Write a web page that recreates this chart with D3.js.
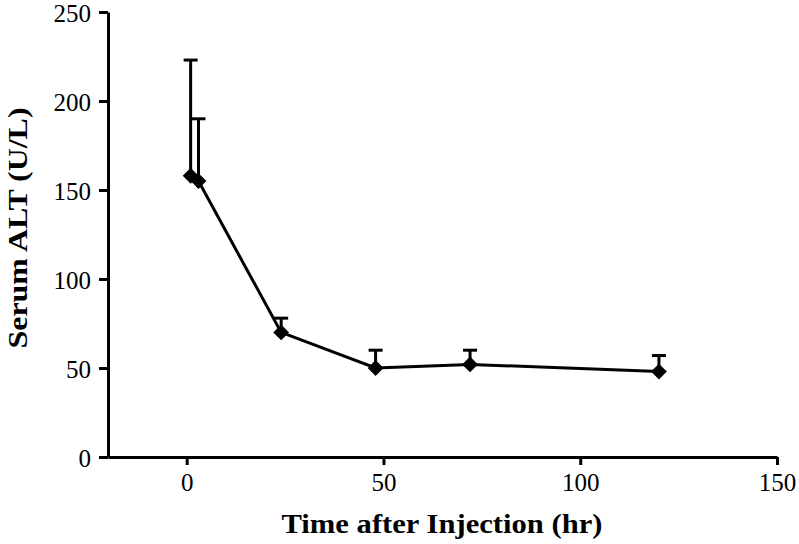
<!DOCTYPE html>
<html>
<head>
<meta charset="utf-8">
<script src="https://cdn.jsdelivr.net/npm/d3@7"></script>
<style>
  html, body { margin: 0; padding: 0; background: #fff; }
  svg { display: block; }
</style>
</head>
<body>
<svg id="chart" width="799" height="544"></svg>
<script>
// Data
const timesHr = [1, 3, 24, 48, 72, 120];
const altMean = [158, 155, 70, 50, 52, 48];
const altUpper = [223, 190, 78, 60, 60, 57];
const xTicks = [0, 50, 100, 150];
const yTicks = [0, 50, 100, 150, 200, 250];
const xTitle = "Time after Injection (hr)";
const yTitle = "Serum ALT (U/L)";

const svg = d3.select("#chart");
const font = "'Liberation Serif', 'Times New Roman', serif";

const x = d3.scaleLinear().domain([-20, 150]).range([108, 777]);
const y = d3.scaleLinear().domain([0, 250]).range([457, 12]);

// Axes
const xAxis = svg.append("g").attr("transform", `translate(0,${y(0)})`)
  .call(d3.axisBottom(x).tickValues(xTicks).tickSize(8).tickPadding(8).tickSizeOuter(0));
const yAxis = svg.append("g").attr("transform", `translate(${x(-20)},0)`)
  .call(d3.axisLeft(y).tickValues(yTicks).tickSize(9).tickPadding(8).tickSizeOuter(0));

[xAxis, yAxis].forEach(g => {
  g.select(".domain").attr("stroke", "#000").attr("stroke-width", 3);
  g.selectAll(".tick line").attr("stroke", "#000").attr("stroke-width", 3);
  g.selectAll(".tick text").attr("fill", "#000")
    .style("font-family", font).style("font-size", "25px");
});
xAxis.selectAll(".tick text").attr("dy", "0.71em");
yAxis.selectAll(".tick text").attr("dy", "0.36em");

// Line
const pts = timesHr.map((t, i) => ({ t, m: altMean[i], u: altUpper[i] }));
svg.append("path").datum(pts)
  .attr("fill", "none").attr("stroke", "#000").attr("stroke-width", 3)
  .attr("d", d3.line().x(d => x(d.t)).y(d => y(d.m)));

// Error bars (upper)
const eb = svg.append("g").attr("stroke", "#000").attr("stroke-width", 3);
eb.selectAll("line.v").data(pts).join("line").attr("class", "v")
  .attr("x1", d => x(d.t)).attr("x2", d => x(d.t))
  .attr("y1", d => y(d.m)).attr("y2", d => y(d.u));
eb.selectAll("line.c").data(pts).join("line").attr("class", "c")
  .attr("x1", d => x(d.t) - 7).attr("x2", d => x(d.t) + 7)
  .attr("y1", d => y(d.u)).attr("y2", d => y(d.u));

// Diamond markers
svg.append("g").selectAll("path").data(pts).join("path")
  .attr("transform", d => `translate(${x(d.t)},${y(d.m)})`)
  .attr("d", d3.symbol().type(d3.symbolDiamond2).size(160))
  .attr("fill", "#000");

// Titles
svg.append("text")
  .attr("x", 442).attr("y", 533)
  .attr("text-anchor", "middle")
  .attr("textLength", 321).attr("lengthAdjust", "spacingAndGlyphs")
  .style("font-family", font).style("font-size", "28px").style("font-weight", "bold")
  .text(xTitle);

svg.append("text")
  .attr("transform", "translate(27,228) rotate(-90)")
  .attr("text-anchor", "middle")
  .attr("textLength", 241).attr("lengthAdjust", "spacingAndGlyphs")
  .style("font-family", font).style("font-size", "27px").style("font-weight", "bold")
  .text(yTitle);
</script>
</body>
</html>
